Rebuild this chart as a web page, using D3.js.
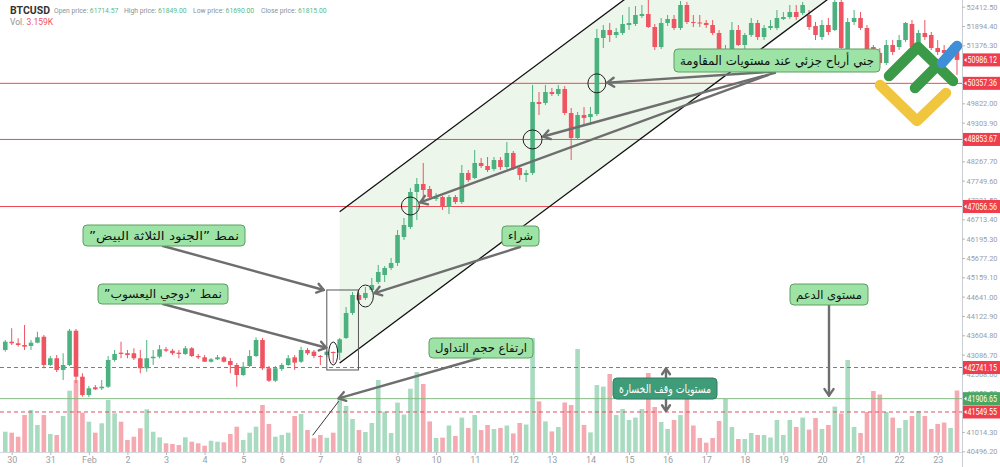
<!DOCTYPE html>
<html><head><meta charset="utf-8">
<script src="https://cdn.jsdelivr.net/npm/d3@7"></script>
<style>body{margin:0;background:#fff;}svg{display:block}</style>
</head><body><svg id="c" width="1000" height="467"></svg>
<script>
// ---------- DATA (4h candles, BTCUSD, Jan 29 20:00 -> Feb 23 12:00) ----------
const opens=[43211,43433,43391,43345,43318,43407,43567,42809,42989,42675,42809,43728,42495,42005,42211,42185,42227,42943,43139,43123,43123,42989,42721,42989,43031,43230,43192,43139,43104,43257,43050,43015,42897,42962,43015,42916,42809,42541,42782,43050,43479,42721,42388,42702,42809,43015,42897,43211,43166,43050,43077,43157,43139,43533,44203,44685,44605,44819,45033,45221,45409,45543,46239,46507,47445,47660,47526,47258,47311,47043,47311,47177,47955,47821,48223,48142,48062,48303,48115,48491,48089,47901,47955,49857,49831,50125,50072,50206,49563,48893,49509,49455,49536,51573,51787,51653,51707,51921,51948,52162,52216,51867,51331,51975,52082,51841,52457,52001,51988,51975,51921,51707,51171,51251,51787,51385,51653,51975,51599,51841,51841,52082,52135,52269,52243,52189,51894,51599,51921,51787,52537,51251,52001,52109,51841,51331,51171,50903,51385,51331,51519,51948,51331,51707,51653,51305,51251,51117,51251];
const highs=[43479,43793,43525,43881,43479,43701,43613,43050,43077,43123,43774,43774,42587,42246,42273,42407,43050,43211,43433,43211,43257,43211,43479,43211,43345,43291,43238,43211,43318,43291,43104,43077,42997,43077,43050,42997,42863,42889,43211,43551,43533,42782,42782,42863,43077,43077,43300,43265,43211,43077,43211,43170,43533,44363,44765,44738,44899,45141,45489,45460,45677,46427,46749,47553,47821,48223,47606,47419,47338,47365,47365,48169,48035,48571,48357,48383,48383,48383,48785,48544,48169,48035,50313,50125,50313,50233,50313,50286,49697,49589,49723,49723,51814,51921,51975,51841,52189,52403,52430,52457,52591,51948,52109,52189,52189,52564,52537,52189,52189,52055,52055,51787,51385,52001,51921,51707,52109,52055,51921,52055,52323,52269,52457,52457,52537,52323,52001,52055,52109,52850,52700,52109,52323,52269,51921,51385,51305,51519,51519,51653,52001,52055,51787,52055,51733,51519,51385,51385,51385];
const lows=[43166,43345,43300,43211,43211,43391,42721,42782,42621,42407,42782,42319,41959,41951,42139,42139,42193,42897,42989,42989,42943,42587,42629,42809,42989,43157,43077,42989,43077,43023,42970,42889,42876,42943,42876,42587,42227,42514,42755,43023,42675,42353,42353,42648,42782,42675,42863,43077,42997,42809,43023,42863,42943,43506,44149,44497,44551,44765,44980,45033,45355,45462,46159,46454,46695,47231,47231,47204,46963,46856,47124,47124,47713,47790,48089,47981,48008,48035,48062,48035,47767,47713,47901,49509,49777,50018,50018,49509,48303,48839,49241,49241,49482,51305,51465,51573,51653,51787,51894,52109,51841,51251,51278,51894,51787,51787,51948,51867,51867,51841,51653,51117,51037,51197,51360,51251,51600,51519,51519,51787,51787,52055,52082,52055,52189,51787,51519,51519,51653,51760,51251,51197,51921,51787,51063,50983,50849,50849,51117,51251,51465,51251,51251,51519,51251,51117,51037,50983,50581];
const closes=[43433,43391,43345,43300,43407,43551,42809,42989,42675,42809,43728,42495,42005,42185,42158,42227,42943,43104,43104,43077,42989,42721,42989,43031,43230,43192,43123,43104,43257,43050,43015,42897,42962,43015,42897,42809,42541,42763,43050,43479,42721,42388,42721,42809,42989,42871,43211,43123,43050,43031,43166,43131,43498,44203,44685,44551,44738,44953,45301,45409,45543,46293,46561,47445,47660,47499,47311,47298,47043,47311,47177,47955,47767,48223,48142,48035,48303,48115,48491,48089,47901,47955,49857,49804,50125,50072,50206,49563,48893,49509,49429,49536,51573,51787,51653,51733,51948,51975,52189,52216,51867,51331,51975,52082,51841,52457,52001,51975,51961,51921,51707,51197,51251,51787,51385,51653,51975,51599,51841,51894,52109,52135,52269,52135,52457,51867,51653,51921,51733,52537,51305,52001,52109,51841,51117,51037,50903,51385,51197,51519,51975,51331,51707,51599,51305,51197,51171,51251,50986];
const volumes=[203,193,153,370,420,270,370,180,170,360,613,720,393,303,193,287,520,387,303,120,153,237,427,203,147,87,80,70,147,103,87,63,113,103,97,180,253,120,193,253,470,280,153,170,193,360,380,220,137,170,143,193,527,460,330,220,200,290,720,403,190,494,375,633,800,680,306,140,144,265,160,344,240,370,220,270,230,240,265,186,290,275,1140,506,306,206,250,495,470,1030,270,196,670,654,780,370,430,320,344,430,790,450,300,230,320,370,590,265,140,93,140,310,530,250,130,130,190,170,170,145,320,170,320,250,344,224,340,230,270,454,385,920,250,190,400,610,575,400,344,240,320,360,410,360,230,280,295,240,615];
const firstCandle=new Date(2024,0,29,20,0,0);
const priceTicks=[52412.50,51894.40,51376.30,50858.20,50340.10,49822.00,49303.90,48785.80,48267.70,47749.60,47231.50,46713.40,46195.30,45677.20,45159.10,44641.00,44122.90,43604.80,43086.70,42568.60,42050.50,41532.40,41014.30,40496.20];
const resistanceLevels=[50357.36,48853.67,47056.56];
const stopLevels=[42741.15,41549.55];
const supportLevel=41906.65;
const lastPrice=50986.12;
const header={symbol:"BTCUSD",open:"61714.57",high:"61849.00",low:"61690.00",close:"61815.00",vol:"3.159K"};

// ---------- SETUP ----------
const W=1000,H=467,plotR=962,plotB=452;
const svg=d3.select("#c");
const dates=opens.map((_,i)=>new Date(firstCandle.getTime()+i*4*3600*1000));
const x=d3.scaleTime().domain([new Date(2024,0,30),new Date(2024,1,23)]).range([11.7,937.7]);
const y=d3.scaleLinear().domain([40477,52591]).range([plotB,0]);
const yv=d3.scaleLinear().domain([0,1140]).range([plotB,338]);
const UP="#4bb27f",DN="#ef5461",UPV="#a9dbc1",DNV="#f5a9b0";
const idx=k=>k+1;
const cx=k=>x(dates[idx(k)]);

svg.append("defs").append("clipPath").attr("id","clip").append("rect").attr("x",0).attr("y",0).attr("width",plotR).attr("height",plotB);
const g=svg.append("g").attr("clip-path","url(#clip)");

// channel
const chStart=51, chEnd=135, chUpper=46917, chLower=42863, chSlope=128.4;
const chP=(base,k)=>base+chSlope*(k-chStart);
g.append("path").attr("fill","#e9f4e6").attr("fill-opacity",0.8)
 .attr("d",d3.line()([[cx(chStart),y(chP(chUpper,chStart))],[cx(chEnd),y(chP(chUpper,chEnd))],[cx(chEnd),y(chP(chLower,chEnd))],[cx(chStart),y(chP(chLower,chStart))]]));

// volume
const bw=4.6;
g.append("g").selectAll("rect").data(volumes).join("rect")
 .attr("x",(d,i)=>x(dates[i])-bw/2).attr("width",bw)
 .attr("y",d=>yv(d)).attr("height",d=>plotB-yv(d))
 .attr("fill",(d,i)=>closes[i]>=opens[i]?UPV:DNV);

// levels
resistanceLevels.forEach(v=>g.append("line").attr("x1",0).attr("x2",plotR).attr("y1",y(v)).attr("y2",y(v)).attr("stroke","#ea4b57").attr("stroke-width",1));
stopLevels.forEach(v=>g.append("line").attr("x1",0).attr("x2",plotR).attr("y1",y(v)).attr("y2",y(v)).attr("stroke","#e0505c").attr("stroke-width",1).attr("stroke-dasharray","4,3"));
g.append("line").attr("x1",0).attr("x2",plotR).attr("y1",y(supportLevel)).attr("y2",y(supportLevel)).attr("stroke","#86b982").attr("stroke-width",1);

// candles
const cg=g.append("g");
opens.forEach((o,i)=>{
  const c=closes[i],col=c>=o?UP:DN,xx=x(dates[i]);
  cg.append("line").attr("x1",xx).attr("x2",xx).attr("y1",y(highs[i])).attr("y2",y(lows[i])).attr("stroke",col).attr("stroke-width",1);
  const t=y(Math.max(o,c)),b=y(Math.min(o,c));
  cg.append("rect").attr("x",xx-bw/2).attr("width",bw).attr("y",t).attr("height",Math.max(1,b-t)).attr("fill",col);
});

[chUpper,chLower].forEach(base=>g.append("line").attr("x1",cx(chStart)).attr("y1",y(chP(base,chStart))).attr("x2",cx(chEnd)).attr("y2",y(chP(base,chEnd))).attr("stroke","#111").attr("stroke-width",1.3));

g.append("rect").attr("x",cx(49)).attr("y",y(44819)).attr("width",cx(54)-cx(49)-0.5).attr("height",y(42675)-y(44819)).attr("fill","none").attr("stroke","#555").attr("stroke-width",1);
const marks=[{k:50,p:43117,rx:4.5,ry:11.5},{k:55,p:44658,rx:8,ry:11},{k:62,p:47070,rx:9,ry:9},{k:81,p:48853.67,rx:9.5,ry:9.5},{k:91,p:50357.36,rx:9,ry:9.5}];
marks.forEach(m=>{m.x=cx(m.k);m.y=y(m.p);
  g.append("ellipse").attr("cx",m.x).attr("cy",m.y).attr("rx",m.rx).attr("ry",m.ry).attr("fill","none").attr("stroke","#222").attr("stroke-width",1);});

// ---------- LOGO ----------
const logo=svg.append("g").attr("fill","none").attr("stroke-linecap","round").attr("stroke-linejoin","round").attr("stroke-width",10.5);
logo.append("path").attr("d","M880,85 L917,121 L946,93").attr("stroke","#f0c63f");
logo.append("path").attr("d","M889,76 L918,47 L953,81").attr("stroke","#3b9a48");
logo.append("path").attr("d","M915,88 L934,69").attr("stroke","#3b9a48");
logo.append("path").attr("d","M942,63 L957,46").attr("stroke","#3f8fd8");

// ---------- AXES ----------
svg.append("line").attr("x1",plotR+0.5).attr("x2",plotR+0.5).attr("y1",0).attr("y2",H).attr("stroke","#c9ccd2");
svg.append("line").attr("x1",0).attr("x2",plotR).attr("y1",plotB+0.5).attr("y2",plotB+0.5).attr("stroke","#d5d8dc");
const tagValues=[lastPrice,...resistanceLevels,...stopLevels,supportLevel];
const hidden=v=>tagValues.some(t=>Math.abs(y(t)-y(v))<5);
const ya=svg.append("g").attr("transform",`translate(${plotR},0)`)
 .call(d3.axisRight(y).tickValues(priceTicks).tickFormat(v=>hidden(v)?"":d3.format(".2f")(v)).tickSize(3).tickPadding(1.5));
ya.select(".domain").remove();
ya.selectAll("line").attr("stroke","#b5b8bd");
ya.selectAll("text").attr("fill","#9a9ea5").attr("font-family","Roboto, sans-serif").attr("font-size",8).filter(function(){return this.textContent!=="";}).attr("textLength",31).attr("lengthAdjust","spacingAndGlyphs");
const xa=svg.append("g").attr("transform",`translate(0,${plotB})`)
 .call(d3.axisBottom(x).ticks(d3.timeDay.every(1)).tickFormat(d=>d.getDate()===1?"Feb":d.getDate()).tickSize(3).tickPadding(2));
xa.select(".domain").remove();
xa.selectAll("line").attr("stroke","#b5b8bd");
xa.selectAll("text").attr("fill","#9a9ea5").attr("font-family","Roboto, sans-serif").attr("font-size",9);

// price tags
const RED="#ef3d4e";
const tags=[{v:lastPrice,c:RED}].concat(resistanceLevels.map(v=>({v,c:RED}))).concat(stopLevels.map(v=>({v,c:RED}))).concat([{v:supportLevel,c:"#4aa663"}]);
tags.forEach(t=>{const yy=y(t.v);
  svg.append("rect").attr("x",plotR+1).attr("y",yy-6.5).attr("width",W-plotR-1).attr("height",13).attr("fill",t.c);
  svg.append("path").attr("d",`M${plotR+2},${yy} L${plotR+4.5},${yy-2.2} L${plotR+4.5},${yy+2.2}Z`).attr("fill","#fff");
  svg.append("text").attr("x",plotR+5.5).attr("y",yy+3).attr("fill","#fff").attr("font-family","Roboto, sans-serif").attr("font-size",8.2)
   .attr("textLength",29.5).attr("lengthAdjust","spacingAndGlyphs").text(d3.format(".2f")(t.v));
});

// ---------- ANNOTATIONS ----------
const AG="#6e6e6e";
function arrow(x1,y1,x2,y2,w=2.4,col=AG,head=8){
  svg.append("line").attr("x1",x1).attr("y1",y1).attr("x2",x2).attr("y2",y2).attr("stroke",col).attr("stroke-width",w).attr("stroke-linecap","round");
  const a=Math.atan2(y1-y2,x1-x2),s=0.6;
  svg.append("path").attr("d",`M${x2+head*Math.cos(a+s)},${y2+head*Math.sin(a+s)} L${x2},${y2} L${x2+head*Math.cos(a-s)},${y2+head*Math.sin(a-s)}`)
   .attr("fill","none").attr("stroke",col).attr("stroke-width",w).attr("stroke-linecap","round").attr("stroke-linejoin","round");
}
function edge(m,sx,sy){const dx=sx-m.x,dy=sy-m.y,L=Math.hypot(dx,dy),ux=dx/L,uy=dy/L;const t=1/Math.sqrt((ux/m.rx)**2+(uy/m.ry)**2)+1.5;return [m.x+ux*t,m.y+uy*t];}
function label(x0,y0,w,h,txt,fill="#9ee3a6",stroke="#5e9e63",tc="#111",fs=11.5){
  svg.append("rect").attr("x",x0).attr("y",y0).attr("width",w).attr("height",h).attr("rx",4).attr("fill",fill).attr("stroke",stroke).attr("stroke-width",1);
  svg.append("text").attr("x",x0+w/2).attr("y",y0+h/2+4.2).attr("text-anchor","middle").attr("fill",tc)
   .style("direction","rtl").style("unicode-bidi","embed")
   .attr("font-family","'DejaVu Sans', sans-serif").attr("font-size",fs)
   .attr("textLength",w-12).attr("lengthAdjust","spacingAndGlyphs")
   .text("\u200F"+txt+"\u200F");
}
[[775,71.5,marks[4]],[775,72.8,marks[3]],[768,75,marks[2]]].forEach(([sx,sy,m])=>{const [tx,ty]=edge(m,sx,sy);arrow(sx,sy,tx,ty);});
arrow(163,246,cx(49)-3,y(44819));
{const [tx,ty]=edge(marks[0],163,304);arrow(163,304,tx-1,ty-4);}
{const [tx,ty]=edge(marks[1],520,247);arrow(520,247,tx,ty);}
{const bx=cx(51),by=yv(volumes[idx(51)]);arrow(480,358,bx-1,by-1);
 svg.append("line").attr("x1",bx-27).attr("y1",by+36).attr("x2",bx-1).attr("y2",by+2).attr("stroke","#222").attr("stroke-width",0.9);}
arrow(666,378,666,y(stopLevels[0])+1,2.4,AG,7);
arrow(666,399,666,y(stopLevels[1])-1,2.4,AG,7);
arrow(829,305,829,y(supportLevel)-3,2.4,AG,8);

label(674,49,206,23,"جني أرباح جزئي عند مستويات المقاومة","#9ee3a6","#5e9e63","#111",12.5);
label(83,225,162,21,"نمط ”الجنود الثلاثة البيض”");
label(98,284,130,20,"نمط ”دوجي اليعسوب”");
label(502,226,37,20,"شراء",undefined,undefined,undefined,11.5);
label(429,338,104,20,"ارتفاع حجم التداول");
label(613,378,104,21,"مستويات وقف الخسارة","#3f9c79","#2e7d60","#fff",11.5);
label(790,284,78,21,"مستوى الدعم");

// ---------- HEADER ----------
const hd=svg.append("g").attr("font-family","Roboto, sans-serif");
hd.append("text").attr("x",10).attr("y",14).attr("font-size",10.5).attr("font-weight","bold").attr("fill","#333").text(header.symbol);
const items=[["Open price: ",header.open,54],["High price: ",header.high,124],["Low price: ",header.low,193],["Close price: ",header.close,261]];
items.forEach(([l,v,xx])=>{const t=hd.append("text").attr("x",xx).attr("y",13).attr("font-size",6.8);
  t.append("tspan").attr("fill","#8c9096").text(l);t.append("tspan").attr("fill","#5cb88a").text(v);});
const vt=hd.append("text").attr("x",10).attr("y",25).attr("font-size",8.5);
vt.append("tspan").attr("fill","#8c9096").text("Vol. ");vt.append("tspan").attr("fill","#ef5461").text(header.vol);
</script></body></html>
